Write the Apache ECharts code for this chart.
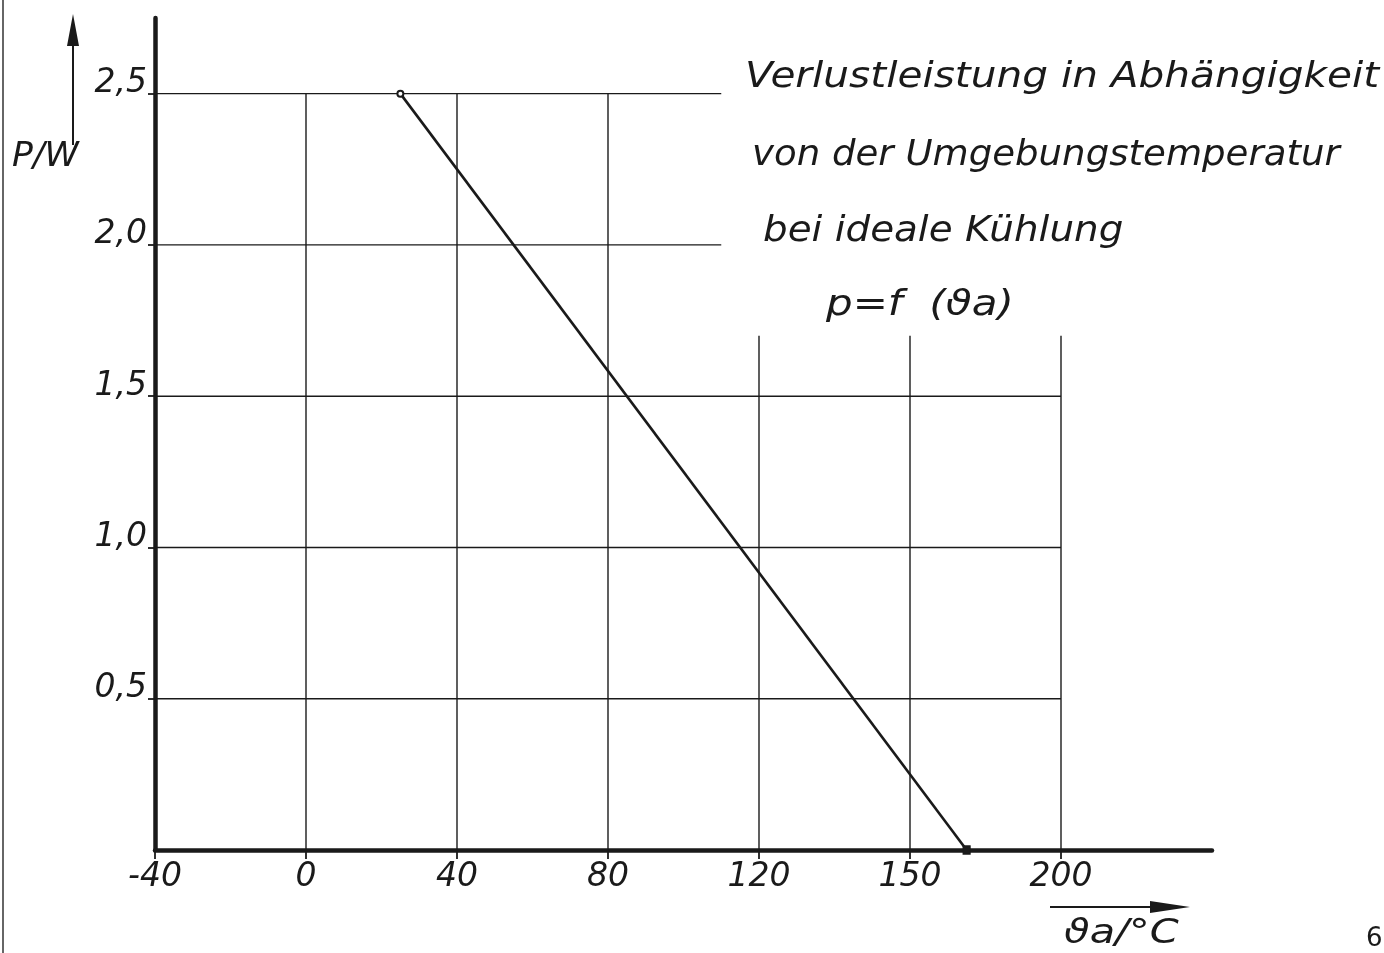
<!DOCTYPE html>
<html>
<head>
<meta charset="utf-8">
<script src="https://cdn.jsdelivr.net/npm/echarts@6/dist/echarts.min.js"></script>
<style>
  html, body { margin: 0; padding: 0; background: #fff; }
  #chart { width: 1384px; height: 953px; }
</style>
</head>
<body>
<div id="chart"></div>
<script>
// Power loss P (W) against ambient temperature ϑa (°C)
const curveTemp = [25, 175];
const curvePower = [2.5, 0];

// Tick positions and their printed labels
const xTickValues = [-40, 0, 40, 80, 120, 160, 200];
const xTickLabels = ['-40', '0', '40', '80', '120', '150', '200'];
const yTickValues = [0.5, 1.0, 1.5, 2.0, 2.5];
const yTickLabels = ['0,5', '1,0', '1,5', '2,0', '2,5'];

// Grid rules: horizontal lines (level, right end in °C), vertical lines (temperature, top in W)
const hRuleLevels = [2.5, 2.0, 1.5, 1.0, 0.5];
const hRuleEnds = [110, 110, 200, 200, 200];
const vRuleTemps = [0, 40, 80, 120, 160, 200];
const vRuleTops = [2.5, 2.5, 2.5, 1.7, 1.7, 1.7];

const FONT = 'DejaVu Sans';
const INK = '#1a1a1a';

const xLabelMap = {};
xTickValues.forEach((v, i) => { xLabelMap[v] = xTickLabels[i]; });
const yLabelMap = {};
yTickValues.forEach((v, i) => { yLabelMap[v.toFixed(1)] = yTickLabels[i]; });

const ruleSeries = [];
hRuleLevels.forEach((p, i) => {
  ruleSeries.push({
    type: 'line', silent: true, symbol: 'none', z: 1,
    lineStyle: { color: INK, width: 1.4 },
    data: [[-40, p], [hRuleEnds[i], p]]
  });
});
vRuleTemps.forEach((t, i) => {
  ruleSeries.push({
    type: 'line', silent: true, symbol: 'none', z: 1,
    lineStyle: { color: INK, width: 1.4 },
    data: [[t, 0], [t, vRuleTops[i]]]
  });
});

// the characteristic: hollow ring at the start, small solid block at the end
const curveSymbols = [
  { symbol: 'emptyCircle', symbolSize: 6 },
  { symbol: 'rect', symbolSize: [7, 8] }
];
const curve = {
  type: 'line', z: 3,
  data: curveTemp.map((t, i) => Object.assign({ value: [t, curvePower[i]] }, curveSymbols[i])),
  lineStyle: { color: INK, width: 2.6 },
  itemStyle: { color: INK, borderColor: INK, borderWidth: 1.2 },
  showAllSymbol: true
};

const textEl = (txt, left, top, size, sx) => ({
  type: 'text', left: left, top: top, scaleX: sx || 1,
  style: { text: txt, font: 'italic ' + size + 'px "' + FONT + '"', fill: INK }
});

const chart = echarts.init(document.getElementById('chart'), null, { renderer: 'canvas' });
chart.setOption({
  backgroundColor: '#ffffff',
  animation: false,
  grid: { left: 155, right: 172, top: 18, bottom: 103, containLabel: false },
  xAxis: {
    type: 'value', min: -40, max: 240, interval: 40,
    splitLine: { show: false },
    axisTick: { show: true, customValues: xTickValues, length: 9, lineStyle: { color: INK, width: 1.8 } },
    axisLine: { show: true, onZero: false, lineStyle: { color: INK, width: 4.5 } },
    axisLabel: {
      margin: 11, customValues: xTickValues,
      color: INK, fontFamily: FONT, fontStyle: 'italic', fontSize: 33,
      formatter: v => (xLabelMap[v] !== undefined ? xLabelMap[v] : '')
    }
  },
  yAxis: {
    type: 'value', min: 0, max: 2.75, interval: 0.5,
    splitLine: { show: false },
    axisTick: { show: true, customValues: yTickValues, length: 7, lineStyle: { color: INK, width: 1.8 } },
    axisLine: { show: true, onZero: false, lineStyle: { color: INK, width: 4.5 } },
    axisLabel: {
      margin: 8, customValues: yTickValues, verticalAlign: 'bottom', lineHeight: 20,
      color: INK, fontFamily: FONT, fontStyle: 'italic', fontSize: 33,
      formatter: v => (yLabelMap[v.toFixed(1)] !== undefined ? yLabelMap[v.toFixed(1)] : '')
    }
  },
  series: ruleSeries.concat([curve]),
  graphic: [
    // scan edge at the far left
    { type: 'line', shape: { x1: 3, y1: 0, x2: 3, y2: 953 }, style: { stroke: '#333', lineWidth: 1.5 } },
    // P axis arrow
    { type: 'line', shape: { x1: 73, y1: 145, x2: 73, y2: 40 }, style: { stroke: INK, lineWidth: 2 } },
    { type: 'polygon', shape: { points: [[73, 14], [67, 46], [79, 46]] }, style: { fill: INK } },
    textEl('P/W', 12, 141, 33, 1.05),
    // ϑa axis arrow
    { type: 'line', shape: { x1: 1050, y1: 907, x2: 1160, y2: 907 }, style: { stroke: INK, lineWidth: 2 } },
    { type: 'polygon', shape: { points: [[1190, 907], [1150, 901], [1150, 913]] }, style: { fill: INK } },
    textEl('ϑa/°C', 1064, 917, 34, 1.22),
    // annotation block
    textEl('Verlustleistung in Abhängigkeit', 745, 60, 35, 1.16),
    textEl('von der Umgebungstemperatur', 752, 138, 35, 1.06),
    textEl('bei ideale Kühlung', 763, 214, 35, 1.11),
    textEl('p=f  (ϑa)', 826, 288, 35, 1.2),
    // page number
    { type: 'text', left: 1366, top: 926, style: { text: '6', font: '26px "' + FONT + '"', fill: INK } }
  ]
});
</script>
</body>
</html>
